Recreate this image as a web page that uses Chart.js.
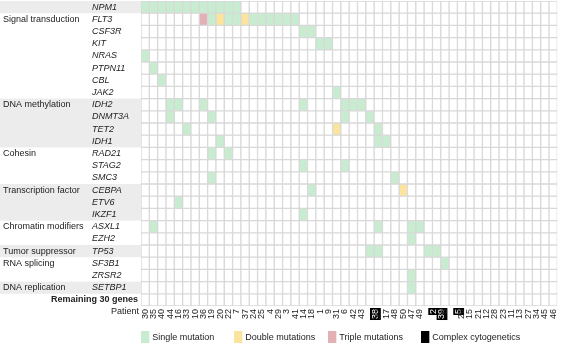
<!DOCTYPE html>
<html>
<head>
<meta charset="utf-8">
<script src="https://cdn.jsdelivr.net/npm/chart.js@4.4.1/dist/chart.umd.min.js"></script>
<style>
    html, body { margin: 0; padding: 0; background: #fff; }
    #wrap { width: 567px; height: 345px; }
</style>
</head>
<body>
<div id="wrap"><canvas id="mutChart"></canvas></div>
<script>
// Patients in column order (left to right)
const patients = [30, 35, 40, 44, 16, 33, 10, 36, 19, 20, 22, 7, 37, 24, 25, 4, 29, 3, 41, 14, 18, 1, 9, 31, 6,
                  42, 43, 38, 32, 17, 48, 50, 47, 49, 2, 39, 8, 5, 26, 15, 21, 12, 28, 23, 11, 13, 27, 34, 45, 46];

// Genes, top to bottom
const genes = ['NPM1', 'FLT3', 'CSF3R', 'KIT', 'NRAS', 'PTPN11', 'CBL', 'JAK2',
               'IDH2', 'DNMT3A', 'TET2', 'IDH1', 'RAD21', 'STAG2', 'SMC3',
               'CEBPA', 'ETV6', 'IKZF1', 'ASXL1', 'EZH2', 'TP53', 'SF3B1', 'ZRSR2', 'SETBP1',
               'Remaining 30 genes'];

// Mutated patients per gene (same order as genes)
const mutatedPatients = [
    [30, 35, 40, 44, 16, 33, 10, 36, 19, 20, 22, 7],     // NPM1
    [36, 19, 20, 22, 7, 37, 24, 25, 4, 29, 3, 41],       // FLT3
    [14, 18],                                            // CSF3R
    [1, 9],                                              // KIT
    [30],                                                // NRAS
    [35],                                                // PTPN11
    [40],                                                // CBL
    [31],                                                // JAK2
    [44, 16, 36, 14, 6, 42, 43],                         // IDH2
    [44, 19, 6, 38],                                     // DNMT3A
    [33, 31, 32],                                        // TET2
    [20, 32, 17],                                        // IDH1
    [19, 22],                                            // RAD21
    [14, 6],                                             // STAG2
    [19, 48],                                            // SMC3
    [18, 50],                                            // CEBPA
    [16],                                                // ETV6
    [14],                                                // IKZF1
    [35, 32, 47, 49],                                    // ASXL1
    [47],                                                // EZH2
    [38, 32, 2, 39],                                     // TP53
    [8],                                                 // SF3B1
    [47],                                                // ZRSR2
    [47],                                                // SETBP1
    []                                                   // Remaining 30 genes
];

// Multiple hits [gene, patient]
const doubleMutations = [['FLT3', 20], ['FLT3', 37], ['TET2', 31], ['CEBPA', 50]];
const tripleMutations = [['FLT3', 36]];
const complexCytogenetics = [38, 2, 39, 5];

// Functional groups [name, first gene, last gene]
const groups = [
    ['', 'NPM1', 'NPM1'],
    ['Signal transduction', 'FLT3', 'JAK2'],
    ['DNA methylation', 'IDH2', 'IDH1'],
    ['Cohesin', 'RAD21', 'SMC3'],
    ['Transcription factor', 'CEBPA', 'IKZF1'],
    ['Chromatin modifiers', 'ASXL1', 'EZH2'],
    ['Tumor suppressor', 'TP53', 'TP53'],
    ['RNA splicing', 'SF3B1', 'ZRSR2'],
    ['DNA replication', 'SETBP1', 'SETBP1']
];

const legendItems = ['Single mutation', 'Double mutations', 'Triple mutations', 'Complex cytogenetics'];
const colors = ['#ffffff', '#c8ecd0', '#fbe59e', '#e3b1b4', '#000000'];

const FONT = '"Liberation Sans", Arial, sans-serif';
const TEXT = '#222';

function hitLevel(gene, patient) {
    const g = genes.indexOf(gene);
    if (!mutatedPatients[g].includes(patient)) return 0;
    if (tripleMutations.some(m => m[0] === gene && m[1] === patient)) return 3;
    if (doubleMutations.some(m => m[0] === gene && m[1] === patient)) return 2;
    return 1;
}

// One stacked dataset per gene, each cell height 1
const datasets = genes.map(gene => ({
    label: gene,
    data: patients.map(() => 1),
    backgroundColor: patients.map(p => colors[hitLevel(gene, p)]),
    borderColor: '#d8d8d8',
    borderWidth: 1,
    borderSkipped: false,
    categoryPercentage: 1,
    barPercentage: 1
}));

// Draws row stripes, gene/group labels and the legend
const labelsPlugin = {
    id: 'labels',
    beforeDatasetsDraw(chart) {
        const c = chart.ctx;
        const y = chart.scales.y;
        c.save();
        c.fillStyle = '#ececec';
        groups.forEach((g, i) => {
            if (i % 2 !== 0) return;
            const top = y.getPixelForValue(genes.indexOf(g[1]));
            const bottom = y.getPixelForValue(genes.indexOf(g[2]) + 1);
            c.fillRect(0, top, chart.chartArea.left, bottom - top);
        });
        c.restore();
    },
    afterDraw(chart) {
        const c = chart.ctx;
        const y = chart.scales.y;
        const left = chart.chartArea.left;
        c.save();
        c.fillStyle = TEXT;
        c.textBaseline = 'middle';

        genes.forEach((gene, i) => {
            const cy = y.getPixelForValue(i + 0.5);
            if (i === genes.length - 1) {
                c.font = 'bold 9px ' + FONT;
                c.textAlign = 'right';
                c.fillText(gene, left - 3, cy);
            } else {
                c.font = 'italic 9px ' + FONT;
                c.textAlign = 'left';
                c.fillText(gene, 92, cy);
            }
        });

        c.font = '9px ' + FONT;
        c.textAlign = 'left';
        groups.forEach(g => {
            if (!g[0]) return;
            c.fillText(g[0], 3, y.getPixelForValue(genes.indexOf(g[1]) + 0.5));
        });

        c.textAlign = 'right';
        c.fillText('Patient', left - 2, chart.chartArea.bottom + 6);

        // legend
        const cellW = chart.scales.x.getPixelForValue(1) - chart.scales.x.getPixelForValue(0);
        const startX = [141, 234, 328, 421];
        c.textAlign = 'left';
        legendItems.forEach((txt, i) => {
            c.fillStyle = colors[i + 1];
            c.fillRect(startX[i], 331, cellW, 12);
            c.fillStyle = TEXT;
            c.fillText(txt, startX[i] + cellW + 3, 337.5);
        });
        c.restore();
    }
};

const ctx = document.getElementById('mutChart').getContext('2d');
new Chart(ctx, {
    type: 'bar',
    data: {
        labels: patients.map(String),
        datasets: datasets
    },
    options: {
        responsive: true,
        maintainAspectRatio: false,
        animation: false,
        layout: { padding: { top: 1, right: 1, left: 0, bottom: 0 } },
        plugins: {
            legend: { display: false },
            tooltip: { enabled: false }
        },
        scales: {
            x: {
                stacked: true,
                grid: { display: false, drawTicks: false },
                border: { display: false },
                ticks: {
                    autoSkip: false,
                    minRotation: 90,
                    maxRotation: 90,
                    padding: 3,
                    font: { size: 9, family: FONT },
                    color: c => complexCytogenetics.includes(patients[c.index]) ? '#fff' : TEXT,
                    showLabelBackdrop: c => complexCytogenetics.includes(patients[c.index]),
                    backdropColor: '#000',
                    backdropPadding: { top: 0, bottom: 0, left: 1, right: 1 }
                },
                afterFit(scale) { scale.height = 39; }
            },
            y: {
                stacked: true,
                reverse: true,
                min: 0,
                max: 25,
                grid: { display: false },
                border: { display: false },
                ticks: { display: false },
                afterFit(scale) { scale.width = 141; }
            }
        }
    },
    plugins: [labelsPlugin]
});
</script>
</body>
</html>
